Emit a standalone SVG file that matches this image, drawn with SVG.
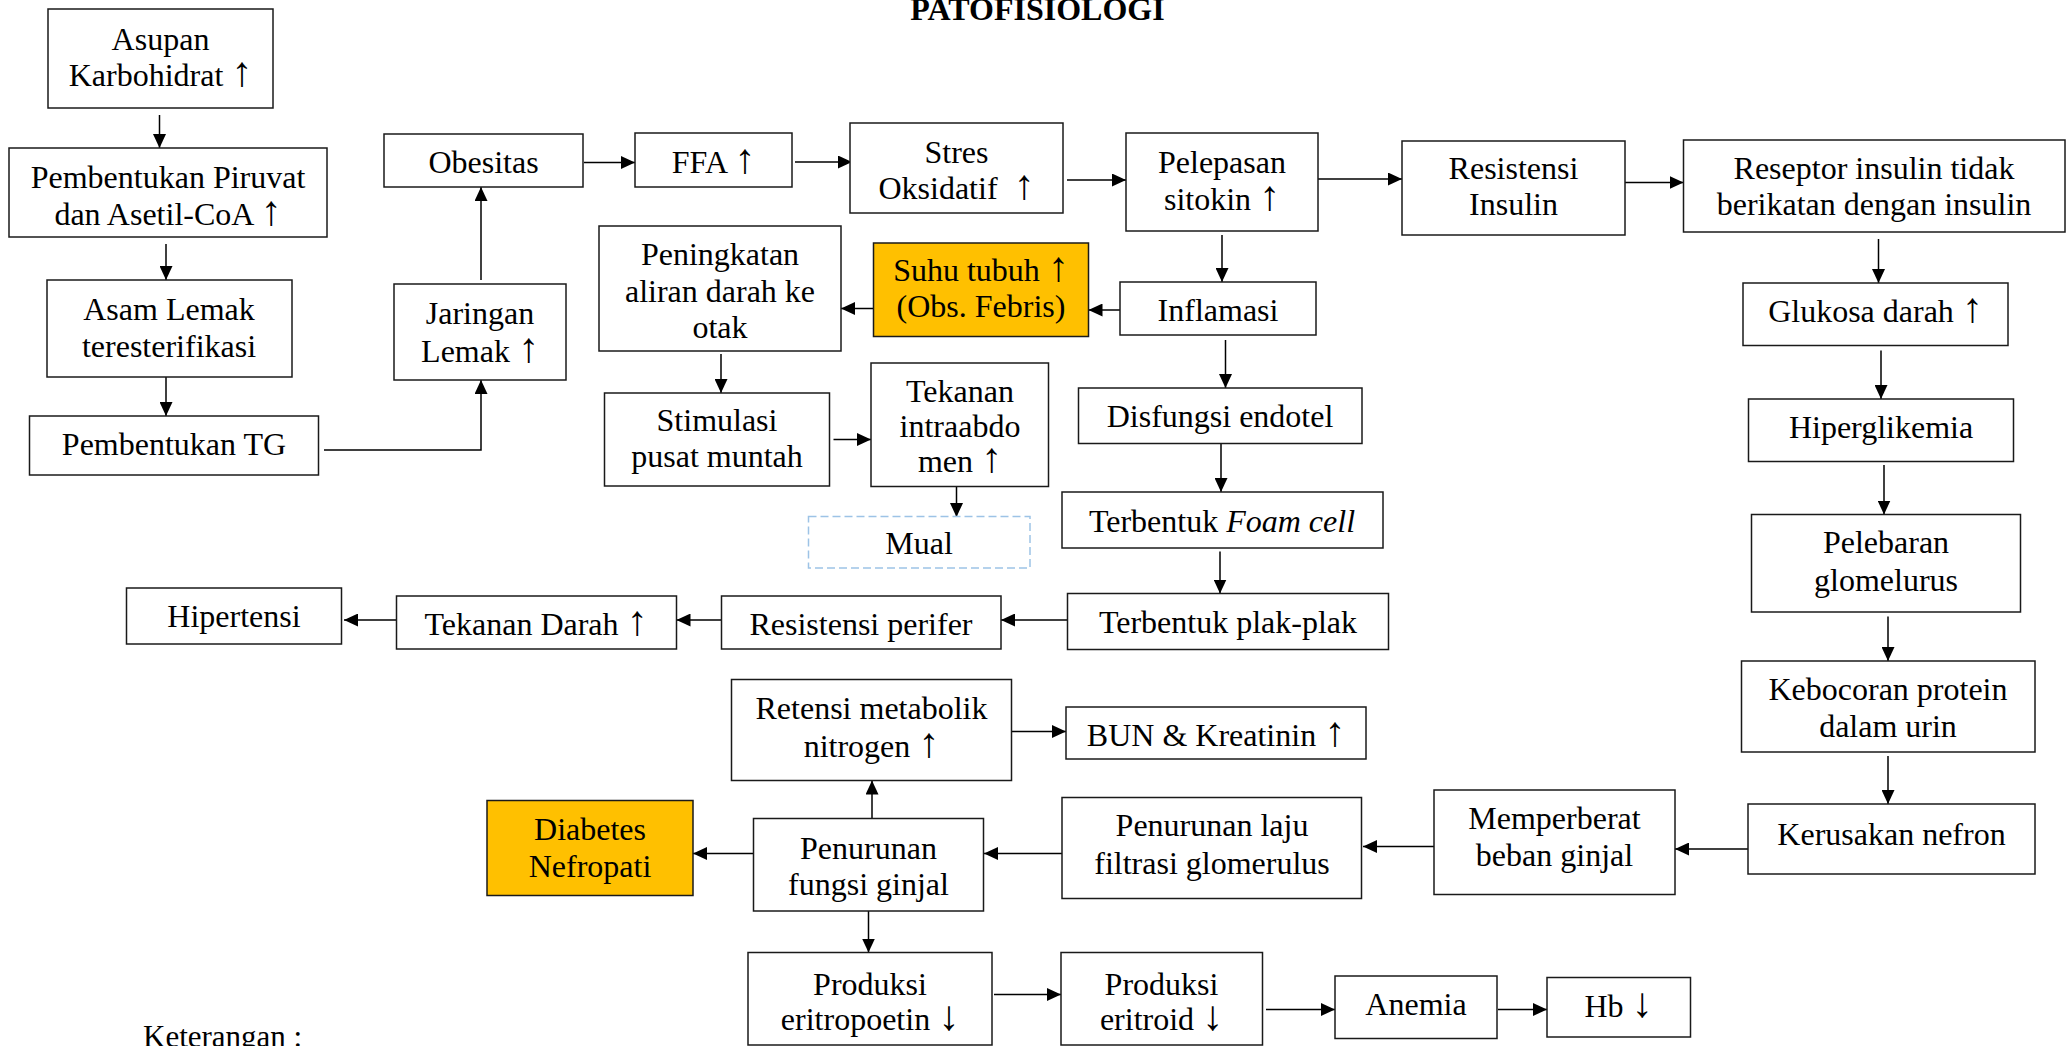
<svg xmlns="http://www.w3.org/2000/svg" width="2071" height="1046" viewBox="0 0 2071 1046">
<style>
.box{fill:#fff;stroke:#1a1a1a;stroke-width:1.5}
.hl{fill:#FFC000;stroke:#1a1a1a;stroke-width:1.5}
.dash{fill:#fff;stroke:#9DC3E6;stroke-width:1.5;stroke-dasharray:8 4}
.t{font-family:"Liberation Serif","Times New Roman",serif;font-size:32px;fill:#000;text-anchor:middle}
.ar{font-size:42px}
.title{font-family:"Liberation Serif","Times New Roman",serif;font-size:32px;font-weight:bold;fill:#000;text-anchor:middle}
.c{fill:none;stroke:#000;stroke-width:1.5}
</style>
<defs>
<marker id="ah" markerUnits="userSpaceOnUse" markerWidth="14" markerHeight="13" refX="14" refY="6.5" orient="auto">
<path d="M0,0 L14,6.5 L0,13 Z" fill="#000"/>
</marker>
</defs>
<rect width="2071" height="1046" fill="#fff"/>
<text class="title" x="1037.5" y="20">PATOFISIOLOGI</text>

<g id="connectors">
<line class="c" x1="159.5" y1="115" x2="159.5" y2="148" marker-end="url(#ah)"/>
<line class="c" x1="166" y1="244" x2="166" y2="280" marker-end="url(#ah)"/>
<line class="c" x1="166" y1="377" x2="166" y2="416" marker-end="url(#ah)"/>
<polyline class="c" points="324,450 481,450 481,380" marker-end="url(#ah)"/>
<line class="c" x1="481" y1="280" x2="481" y2="187" marker-end="url(#ah)"/>
<line class="c" x1="584" y1="162.5" x2="635" y2="162.5" marker-end="url(#ah)"/>
<line class="c" x1="795" y1="162" x2="852" y2="162" marker-end="url(#ah)"/>
<line class="c" x1="1067" y1="180" x2="1126" y2="180" marker-end="url(#ah)"/>
<line class="c" x1="1318" y1="179" x2="1402" y2="179" marker-end="url(#ah)"/>
<line class="c" x1="1625" y1="182.5" x2="1683.5" y2="182.5" marker-end="url(#ah)"/>
<line class="c" x1="1878.5" y1="239" x2="1878.5" y2="283" marker-end="url(#ah)"/>
<line class="c" x1="1881" y1="350.5" x2="1881" y2="399" marker-end="url(#ah)"/>
<line class="c" x1="1884" y1="465" x2="1884" y2="514.5" marker-end="url(#ah)"/>
<line class="c" x1="1888" y1="616.5" x2="1888" y2="661" marker-end="url(#ah)"/>
<line class="c" x1="1888" y1="756" x2="1888" y2="804" marker-end="url(#ah)"/>
<line class="c" x1="1748" y1="849" x2="1675" y2="849" marker-end="url(#ah)"/>
<line class="c" x1="1434" y1="846.5" x2="1363" y2="846.5" marker-end="url(#ah)"/>
<line class="c" x1="1062" y1="853.5" x2="984" y2="853.5" marker-end="url(#ah)"/>
<line class="c" x1="753.5" y1="853.5" x2="693" y2="853.5" marker-end="url(#ah)"/>
<line class="c" x1="872" y1="818.5" x2="872" y2="780.5" marker-end="url(#ah)"/>
<line class="c" x1="1011.5" y1="731.5" x2="1066" y2="731.5" marker-end="url(#ah)"/>
<line class="c" x1="868.5" y1="911" x2="868.5" y2="952.5" marker-end="url(#ah)"/>
<line class="c" x1="994" y1="994.5" x2="1061" y2="994.5" marker-end="url(#ah)"/>
<line class="c" x1="1266" y1="1009.5" x2="1335" y2="1009.5" marker-end="url(#ah)"/>
<line class="c" x1="1498" y1="1009.5" x2="1547" y2="1009.5" marker-end="url(#ah)"/>
<line class="c" x1="1222" y1="235" x2="1222" y2="282" marker-end="url(#ah)"/>
<line class="c" x1="1120" y1="310" x2="1088.5" y2="310" marker-end="url(#ah)"/>
<line class="c" x1="873.5" y1="308.5" x2="841" y2="308.5" marker-end="url(#ah)"/>
<line class="c" x1="721" y1="354" x2="721" y2="393" marker-end="url(#ah)"/>
<line class="c" x1="833.5" y1="439.5" x2="871" y2="439.5" marker-end="url(#ah)"/>
<line class="c" x1="956.5" y1="486.5" x2="956.5" y2="517" marker-end="url(#ah)"/>
<line class="c" x1="1225.5" y1="340" x2="1225.5" y2="388" marker-end="url(#ah)"/>
<line class="c" x1="1221" y1="443.5" x2="1221" y2="492" marker-end="url(#ah)"/>
<line class="c" x1="1220" y1="551.5" x2="1220" y2="593.5" marker-end="url(#ah)"/>
<line class="c" x1="1067.5" y1="620" x2="1001" y2="620" marker-end="url(#ah)"/>
<line class="c" x1="721.5" y1="620" x2="676.5" y2="620" marker-end="url(#ah)"/>
<line class="c" x1="396.5" y1="620" x2="344" y2="620" marker-end="url(#ah)"/>
</g>

<g id="asupan"><rect class="box" x="48" y="9" width="225" height="99"/><text class="t"><tspan x="160.5" y="49.5">Asupan</tspan><tspan x="160.5" y="86">Karbohidrat <tspan class="ar">↑</tspan></tspan></text></g>
<g id="piruvat"><rect class="box" x="9" y="148" width="318" height="89"/><text class="t"><tspan x="168" y="188">Pembentukan Piruvat</tspan><tspan x="168" y="224.5">dan Asetil-CoA <tspan class="ar">↑</tspan></tspan></text></g>
<g id="asam-lemak"><rect class="box" x="47" y="280" width="245" height="97"/><text class="t"><tspan x="169" y="319.5">Asam Lemak</tspan><tspan x="169" y="356.5">teresterifikasi</tspan></text></g>
<g id="tg"><rect class="box" x="29.5" y="416" width="289" height="59"/><text class="t" x="174" y="455">Pembentukan TG</text></g>
<g id="jaringan"><rect class="box" x="394" y="284" width="172" height="96"/><text class="t"><tspan x="480" y="323.5">Jaringan</tspan><tspan x="480" y="361.5">Lemak <tspan class="ar">↑</tspan></tspan></text></g>
<g id="obesitas"><rect class="box" x="384" y="134" width="199" height="53"/><text class="t" x="483.5" y="173">Obesitas</text></g>
<g id="ffa"><rect class="box" x="635" y="133" width="157" height="54"/><text class="t" x="713.5" y="173">FFA <tspan class="ar">↑</tspan></text></g>
<g id="stres"><rect class="box" x="850" y="123" width="213" height="90"/><text class="t"><tspan x="956.5" y="162.5">Stres</tspan><tspan x="956.5" y="198.5" xml:space="preserve">Oksidatif  <tspan class="ar">↑</tspan></tspan></text></g>
<g id="pelepasan"><rect class="box" x="1126" y="133" width="192" height="98"/><text class="t"><tspan x="1222" y="172.5">Pelepasan</tspan><tspan x="1222" y="209.5">sitokin <tspan class="ar">↑</tspan></tspan></text></g>
<g id="resistensi-insulin"><rect class="box" x="1402" y="141" width="223" height="94"/><text class="t"><tspan x="1513.5" y="178.5">Resistensi</tspan><tspan x="1513.5" y="215">Insulin</tspan></text></g>
<g id="reseptor"><rect class="box" x="1683.5" y="140" width="381.5" height="92"/><text class="t"><tspan x="1874" y="178.5">Reseptor insulin tidak</tspan><tspan x="1874" y="215">berikatan dengan insulin</tspan></text></g>
<g id="peningkatan"><rect class="box" x="599" y="226" width="242" height="125"/><text class="t"><tspan x="720" y="265">Peningkatan</tspan><tspan x="720" y="301.5">aliran darah ke</tspan><tspan x="720" y="337.5">otak</tspan></text></g>
<g id="suhu"><rect class="hl" x="873.5" y="243" width="215" height="93.5"/><text class="t"><tspan x="981" y="281">Suhu tubuh <tspan class="ar">↑</tspan></tspan><tspan x="981" y="317">(Obs. Febris)</tspan></text></g>
<g id="inflamasi"><rect class="box" x="1120" y="282" width="196" height="53"/><text class="t" x="1218" y="320.5">Inflamasi</text></g>
<g id="glukosa"><rect class="box" x="1743" y="283" width="265" height="62.5"/><text class="t" x="1875.5" y="321.5">Glukosa darah <tspan class="ar">↑</tspan></text></g>
<g id="stimulasi"><rect class="box" x="604.5" y="393" width="225" height="93"/><text class="t"><tspan x="717" y="431">Stimulasi</tspan><tspan x="717" y="466.5">pusat muntah</tspan></text></g>
<g id="tekanan-intraabdomen"><rect class="box" x="871" y="363" width="177.5" height="123.5"/><text class="t"><tspan x="960" y="401.5">Tekanan</tspan><tspan x="960" y="436.5">intraabdo</tspan><tspan x="960" y="471.5">men <tspan class="ar">↑</tspan></tspan></text></g>
<g id="disfungsi"><rect class="box" x="1078.5" y="388" width="283.5" height="55.5"/><text class="t" x="1220" y="426.5">Disfungsi endotel</text></g>
<g id="hiperglikemia"><rect class="box" x="1748.5" y="399" width="265" height="62.5"/><text class="t" x="1881" y="438">Hiperglikemia</text></g>
<g id="mual"><rect class="dash" x="808.5" y="516.5" width="221.5" height="51.5"/><text class="t" x="919" y="554">Mual</text></g>
<g id="foam-cell"><rect class="box" x="1062" y="492" width="321" height="56"/><text class="t" x="1222" y="531.5">Terbentuk <tspan font-style="italic">Foam cell</tspan></text></g>
<g id="pelebaran"><rect class="box" x="1751.5" y="514.5" width="269" height="97.5"/><text class="t"><tspan x="1886" y="553">Pelebaran</tspan><tspan x="1886" y="591">glomelurus</tspan></text></g>
<g id="hipertensi"><rect class="box" x="126.5" y="588" width="215" height="56"/><text class="t" x="234" y="627">Hipertensi</text></g>
<g id="tekanan-darah"><rect class="box" x="396.5" y="596" width="280" height="53"/><text class="t" x="536" y="635">Tekanan Darah <tspan class="ar">↑</tspan></text></g>
<g id="resistensi-perifer"><rect class="box" x="721.5" y="596" width="279.5" height="53"/><text class="t" x="861" y="635">Resistensi perifer</text></g>
<g id="plak"><rect class="box" x="1067.5" y="593.5" width="321" height="56"/><text class="t" x="1228" y="632.5">Terbentuk plak-plak</text></g>
<g id="retensi"><rect class="box" x="731.5" y="679.5" width="280" height="101"/><text class="t"><tspan x="871.5" y="718.5">Retensi metabolik</tspan><tspan x="871.5" y="756.5">nitrogen <tspan class="ar">↑</tspan></tspan></text></g>
<g id="bun"><rect class="box" x="1066" y="707" width="300" height="52"/><text class="t" x="1216" y="745.5">BUN &amp; Kreatinin <tspan class="ar">↑</tspan></text></g>
<g id="kebocoran"><rect class="box" x="1741.5" y="661" width="293.5" height="91"/><text class="t"><tspan x="1888" y="700">Kebocoran protein</tspan><tspan x="1888" y="737">dalam urin</tspan></text></g>
<g id="diabetes-nefropati"><rect class="hl" x="487" y="800.5" width="206" height="95"/><text class="t"><tspan x="590" y="839.5">Diabetes</tspan><tspan x="590" y="877">Nefropati</tspan></text></g>
<g id="penurunan-fungsi"><rect class="box" x="753.5" y="818.5" width="230" height="92.5"/><text class="t"><tspan x="868.5" y="858.5">Penurunan</tspan><tspan x="868.5" y="895">fungsi ginjal</tspan></text></g>
<g id="penurunan-laju"><rect class="box" x="1062" y="797.5" width="299.5" height="101"/><text class="t"><tspan x="1212" y="836">Penurunan laju</tspan><tspan x="1212" y="874">filtrasi glomerulus</tspan></text></g>
<g id="memperberat"><rect class="box" x="1434" y="790" width="241" height="104.5"/><text class="t"><tspan x="1554.5" y="829">Memperberat</tspan><tspan x="1554.5" y="865.5">beban ginjal</tspan></text></g>
<g id="kerusakan"><rect class="box" x="1748" y="804" width="287" height="70"/><text class="t" x="1891.5" y="844.5">Kerusakan nefron</text></g>
<g id="eritropoetin"><rect class="box" x="748" y="952.5" width="244" height="92.5"/><text class="t"><tspan x="870" y="995">Produksi</tspan><tspan x="870" y="1030">eritropoetin <tspan class="ar">↓</tspan></tspan></text></g>
<g id="eritroid"><rect class="box" x="1061" y="952.5" width="201.5" height="92.5"/><text class="t"><tspan x="1161.5" y="995">Produksi</tspan><tspan x="1161.5" y="1030">eritroid <tspan class="ar">↓</tspan></tspan></text></g>
<g id="anemia"><rect class="box" x="1335" y="976" width="162" height="62.5"/><text class="t" x="1416" y="1015">Anemia</text></g>
<g id="hb"><rect class="box" x="1547" y="977.5" width="143.5" height="59.5"/><text class="t" x="1618.5" y="1017">Hb <tspan class="ar">↓</tspan></text></g>

<text class="t" x="143" y="1047" style="text-anchor:start;font-size:31px">Keterangan :</text>
</svg>
